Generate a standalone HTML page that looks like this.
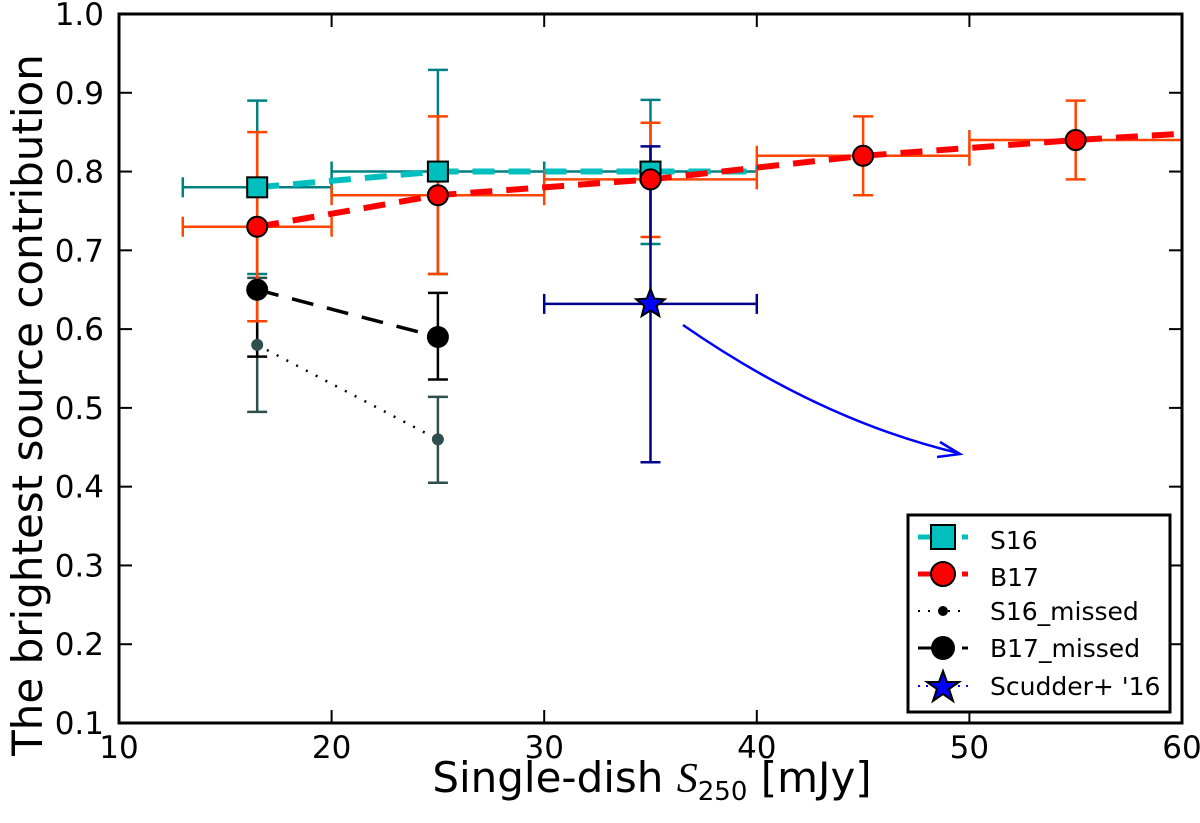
<!DOCTYPE html>
<html><head><meta charset="utf-8"><style>
html,body{margin:0;padding:0;background:#fff;}
svg{display:block;font-family:"DejaVu Sans","Liberation Sans",sans-serif;}
</style></head><body>
<svg id="chart" width="1200" height="823" viewBox="0 0 1200 823" xmlns="http://www.w3.org/2000/svg">
<g id="marks"></g>
<rect x="119" y="14" width="1063" height="709" fill="none" stroke="#000" stroke-width="3"/>
<g id="ticks"></g>
<text x="652" y="792" font-size="42" text-anchor="middle">Single-dish <tspan font-style="italic" font-family="Liberation Serif, serif">S</tspan><tspan font-size="26" dy="8">250</tspan><tspan dy="-8"> [mJy]</tspan></text>
<text transform="translate(42,405) rotate(-90)" font-size="42" text-anchor="middle">The brightest source contribution</text>
<g>
<rect x="908" y="515" width="262" height="197" fill="#fff" stroke="#000" stroke-width="3"/>
<line x1="918" y1="537" x2="968" y2="537" stroke="#00bfbf" stroke-width="5" stroke-dasharray="14 8"/>
<rect x="931" y="525" width="24" height="24" fill="#00bfbf" stroke="#000" stroke-width="2"/>
<text x="990" y="549" font-size="25">S16</text>
<line x1="918" y1="574" x2="968" y2="574" stroke="#ff0000" stroke-width="5" stroke-dasharray="14 8"/>
<circle cx="943" cy="574" r="12" fill="#ff0000" stroke="#000" stroke-width="2"/>
<text x="990" y="586" font-size="25">B17</text>
<line x1="918" y1="611" x2="968" y2="611" stroke="#000" stroke-width="2" stroke-dasharray="2 8"/>
<circle cx="943" cy="611" r="5" fill="#000"/>
<text x="990" y="620" font-size="25">S16_missed</text>
<line x1="918" y1="648" x2="968" y2="648" stroke="#000" stroke-width="3" stroke-dasharray="14 8"/>
<circle cx="943" cy="648" r="12" fill="#000"/>
<text x="990" y="657" font-size="25">B17_missed</text>
<line x1="918" y1="686" x2="968" y2="686" stroke="#0000ff" stroke-width="2" stroke-dasharray="2 6"/>
<polygon points="943,671 947,682 959,682 949,689 953,701 943,694 933,701 937,689 927,682 939,682" fill="#0000ff" stroke="#000" stroke-width="2"/>
<text x="990" y="695" font-size="25">Scudder+ '16</text>
</g>
</svg>
<script>
const xTicks=[10,20,30,40,50,60];
const yTicks=[0.1,0.2,0.3,0.4,0.5,0.6,0.7,0.8,0.9,1.0];
const s16X=[16.5,25,35];
const s16Y=[0.78,0.80,0.80];
const s16Lo=[0.67,0.67,0.708];
const s16Hi=[0.89,0.929,0.891];
const s16BinLo=[13,20,30];
const s16BinHi=[20,30,40];
const s16LineX=[16.5,25,40];
const s16LineY=[0.78,0.80,0.80];
const b17X=[16.5,25,35,45,55];
const b17Y=[0.73,0.77,0.79,0.82,0.84];
const b17Lo=[0.61,0.67,0.717,0.77,0.79];
const b17Hi=[0.85,0.87,0.862,0.87,0.89];
const b17BinLo=[13,20,30,40,50];
const b17BinHi=[20,30,40,50,60];
const b17LineX=[16.5,25,35,40,45,55,60];
const b17LineY=[0.73,0.77,0.79,0.805,0.82,0.84,0.848];
const s16mX=[16.5,25];
const s16mY=[0.58,0.46];
const s16mLo=[0.495,0.405];
const s16mHi=[0.665,0.514];
const b17mX=[16.5,25];
const b17mY=[0.65,0.59];
const b17mLo=[0.565,0.536];
const b17mHi=[0.73,0.646];
const scX=[35];
const scY=[0.632];
const scLo=[0.431];
const scHi=[0.832];
const scBinLo=[30];
const scBinHi=[40];

const X=v=>119+(v-10)*1063/50;
const Y=v=>723-(v-0.1)*709/0.9;
const NS="http://www.w3.org/2000/svg";
const marks=document.getElementById('marks');
const ticks=document.getElementById('ticks');
function mk(tag,attrs,parent){const e=document.createElementNS(NS,tag);for(const k in attrs)e.setAttribute(k,attrs[k]);parent.appendChild(e);return e;}

xTicks.forEach(t=>{
  const l=mk('line',{x1:X(t),x2:X(t),y1:723,y2:710,stroke:'#000','stroke-width':2},ticks);
  
  
  const l2=mk('line',{x1:X(t),x2:X(t),y1:14,y2:27,stroke:'#000','stroke-width':2},ticks);
  
  
  const tx=mk('text',{x:X(t),y:758,'font-size':31,'text-anchor':'middle'},ticks);
  tx.textContent=t;
  
  
});
yTicks.forEach(t=>{
  const l=mk('line',{x1:119,x2:132,y1:Y(t),y2:Y(t),stroke:'#000','stroke-width':2},ticks);
  
  
  const l2=mk('line',{x1:1182,x2:1169,y1:Y(t),y2:Y(t),stroke:'#000','stroke-width':2},ticks);
  
  
  const tx=mk('text',{x:104,y:Y(t)+11,'font-size':31,'text-anchor':'end'},ticks);
  tx.textContent=t.toFixed(1);
  
  
});

function errs(xs,ys,lo,hi,blo,bhi,color,name){
  xs.forEach((x,i)=>{
    const g=mk('g',{stroke:color,'stroke-width':2.5,fill:'none'},marks);
    
    
    mk('line',{x1:X(x),x2:X(x),y1:Y(lo[i]),y2:Y(hi[i])},g);
    mk('line',{x1:X(x)-10,x2:X(x)+10,y1:Y(lo[i]),y2:Y(lo[i])},g);
    mk('line',{x1:X(x)-10,x2:X(x)+10,y1:Y(hi[i]),y2:Y(hi[i])},g);
    if(blo){
      mk('line',{x1:X(blo[i]),x2:X(bhi[i]),y1:Y(ys[i]),y2:Y(ys[i])},g);
      mk('line',{x1:X(blo[i]),x2:X(blo[i]),y1:Y(ys[i])-10,y2:Y(ys[i])+10},g);
      mk('line',{x1:X(bhi[i]),x2:X(bhi[i]),y1:Y(ys[i])-10,y2:Y(ys[i])+10},g);
    }
  });
}
function line(xs,ys,color,w,dash,name){
  const p=mk('polyline',{points:xs.map((x,i)=>X(x)+','+Y(ys[i])).join(' '),fill:'none',stroke:color,'stroke-width':w,'stroke-dasharray':dash},marks);
  
  
}
errs(s16mX,s16mY,s16mLo,s16mHi,null,null,'#2f4f4f','s16-missed');
errs(b17mX,b17mY,b17mLo,b17mHi,null,null,'#000','b17-missed');
errs(s16X,s16Y,s16Lo,s16Hi,s16BinLo,s16BinHi,'#008080','s16');
errs(b17X,b17Y,b17Lo,b17Hi,b17BinLo,b17BinHi,'#ff4500','b17');
errs(scX,scY,scLo,scHi,scBinLo,scBinHi,'#00008b','scudder');
line(s16mX,s16mY,'#000',2.5,'2 9','s16-missed-line');
line(b17mX,b17mY,'#000',3.5,'22 14','b17-missed-line');
line(s16LineX,s16LineY,'#00bfbf',6,'22 14','s16-line');
line(b17LineX,b17LineY,'#ff0000',6,'22 14','b17-line');
s16mX.forEach((x,i)=>{const c=mk('circle',{cx:X(x),cy:Y(s16mY[i]),r:6,fill:'#2f4f4f'},marks);
  
  });
b17mX.forEach((x,i)=>{const c=mk('circle',{cx:X(x),cy:Y(b17mY[i]),r:11,fill:'#000'},marks);
  
  });
s16X.forEach((x,i)=>{const r=mk('rect',{x:X(x)-10,y:Y(s16Y[i])-10,width:20,height:20,fill:'#00bfbf',stroke:'#000','stroke-width':2},marks);
  
  });
b17X.forEach((x,i)=>{const c=mk('circle',{cx:X(x),cy:Y(b17Y[i]),r:10,fill:'#ff0000',stroke:'#000','stroke-width':2},marks);
  
  });
scX.forEach((x,i)=>{
  const cx=X(x),cy=Y(scY[i]),pts=[];
  for(let k=0;k<10;k++){const a=-Math.PI/2+k*Math.PI/5,r=k%2?6.5:15;pts.push((cx+r*Math.cos(a)).toFixed(1)+','+(cy+r*Math.sin(a)).toFixed(1));}
  const s=mk('polygon',{points:pts.join(' '),fill:'#0000ff',stroke:'#000','stroke-width':2},marks);
  
  
});
const ar=mk('path',{d:'M683,325 Q820,420 958,453',fill:'none',stroke:'#0000ff','stroke-width':2.5},marks);


const ah=mk('path',{d:'M940,442 L960,454 L937,457',fill:'none',stroke:'#0000ff','stroke-width':2.5},marks);


</script>
</body></html>
